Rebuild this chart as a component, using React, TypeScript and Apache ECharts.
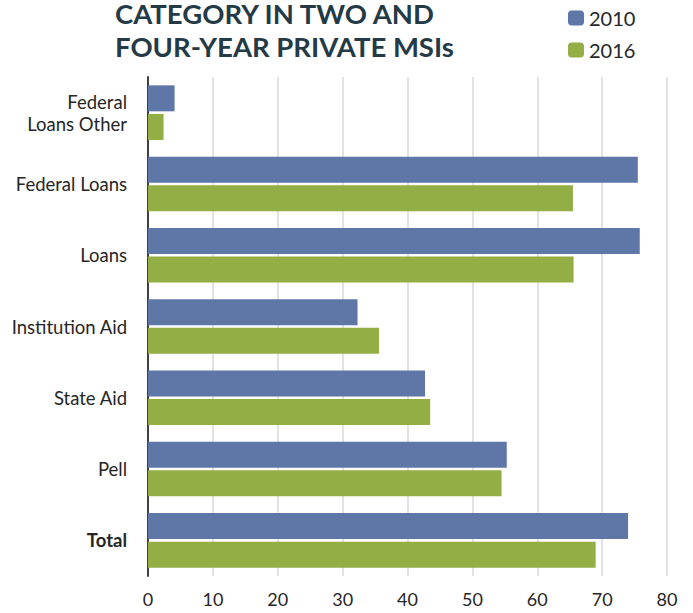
import React, { useEffect, useRef } from "react";
import * as echarts from "echarts";

const categories = [
  "Federal\nLoans Other",
  "Federal Loans",
  "Loans",
  "Institution Aid",
  "State Aid",
  "Pell",
  "Total",
];
const seriesNames = ["2010", "2016"];
const values2010 = [4.1, 75.5, 75.8, 32.3, 42.7, 55.3, 74.0];
const values2016 = [2.4, 65.5, 65.6, 35.6, 43.5, 54.5, 69.0];
const xTicks = { min: 0, max: 80, interval: 10 };
const titleLines = ["CATEGORY IN TWO AND", "FOUR-YEAR PRIVATE MSIs"];
const colors = ["#5e77a7", "#93ae45"];

export default function App() {
  const ref = useRef<HTMLDivElement>(null);
  useEffect(() => {
    if (!ref.current) return;
    const chart = echarts.init(ref.current, null, { renderer: "svg" });
    chart.setOption({
      animation: false,
      backgroundColor: "#ffffff",
      textStyle: { fontFamily: "Lato" },
      title: {
        text: titleLines.join("\n"),
        left: 115,
        top: -3,
        padding: 0,
        textStyle: {
          fontFamily: "Lato",
          fontSize: 27.5,
          fontWeight: "bold",
          color: "#243a47",
          lineHeight: 33,
        },
      },
      legend: {
        orient: "vertical",
        left: 568,
        top: 8,
        itemWidth: 16,
        itemHeight: 15,
        itemGap: 12,
        padding: 0,
        data: seriesNames,
        textStyle: {
          fontFamily: "Lato",
          fontSize: 20,
          color: "#262626",
          lineHeight: 20,
        },
      },
      grid: { left: 148, right: 26, top: 77, bottom: 37, containLabel: false },
      xAxis: {
        type: "value",
        min: xTicks.min,
        max: xTicks.max,
        interval: xTicks.interval,
        axisLine: { show: false },
        axisTick: { show: false },
        axisLabel: {
          margin: 14,
          fontFamily: "Lato",
          fontSize: 18,
          color: "#262626",
        },
        splitLine: { show: true, lineStyle: { color: "#d9d9d9", width: 1.5 } },
      },
      yAxis: {
        type: "category",
        data: categories,
        inverse: true,
        axisLine: { show: true, lineStyle: { color: "#404040", width: 2 } },
        axisTick: { show: false },
        axisLabel: {
          margin: 21,
          fontFamily: "Lato",
          fontSize: 18.5,
          color: "#262626",
          lineHeight: 22,
          formatter: (v: string) => (v === "Total" ? "{b|Total}" : v),
          rich: {
            b: {
              fontFamily: "Lato",
              fontSize: 18.5,
              fontWeight: "bold",
              color: "#262626",
            },
          },
        },
      },
      series: [
        {
          name: seriesNames[0],
          type: "bar",
          data: values2010,
          barWidth: 26,
          barGap: "10%",
          itemStyle: { color: colors[0] },
        },
        {
          name: seriesNames[1],
          type: "bar",
          data: values2016,
          barWidth: 26,
          barGap: "10%",
          itemStyle: { color: colors[1] },
        },
      ],
    });
    return () => chart.dispose();
  }, []);
  return (
    <div
      ref={ref}
      style={{ position: "absolute", left: 0, top: 0, width: 693, height: 613 }}
    />
  );
}
